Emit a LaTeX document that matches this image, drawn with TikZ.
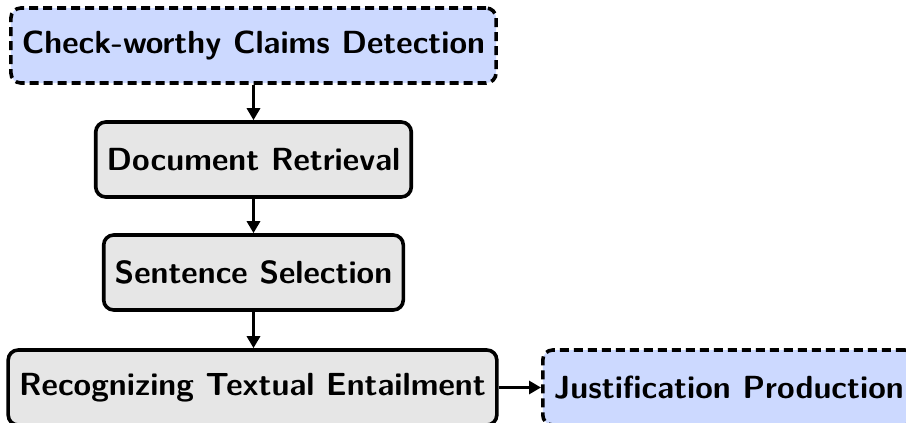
\documentclass[tikz,border=0pt]{standalone}
\usepackage{fontspec}
\usetikzlibrary{arrows.meta}
\definecolor{boxblue}{RGB}{204,217,255}
\definecolor{boxgray}{RGB}{230,230,230}
\begin{document}
\begin{tikzpicture}[x=1pt,y=1pt,
  base/.style={draw=black, line width=3.6pt, rounded corners=10pt, minimum height=75pt,
    inner xsep=11pt, font=\fontsize{32}{38}\selectfont\sffamily\bfseries},
  solidbox/.style={base, fill=boxgray},
  dashbox/.style={base, fill=boxblue, dash pattern=on 9pt off 5pt},
  arr/.style={line width=3.6pt, -{Triangle[length=12pt,width=13pt]}}]
\useasboundingbox (0,0) rectangle (906,-423);
\node[dashbox] (check) at (253.5,-45.5) {Check-worthy Claims Detection};
\node[solidbox] (doc) at (253.5,-159.5) {Document Retrieval};
\node[solidbox] (sent) at (253.5,-272.5) {Sentence Selection};
\node[solidbox] (rte) at (252.5,-387.5) {Recognizing Textual Entailment};
\node[dashbox, anchor=west] (just) at (541,-387.5) {Justification Production};
\draw[arr] (check) -- (doc);
\draw[arr] (doc) -- (sent);
\draw[arr] (sent.south) -- (sent.south |- rte.north);
\draw[arr] (rte) -- (just);
\end{tikzpicture}
\end{document}
